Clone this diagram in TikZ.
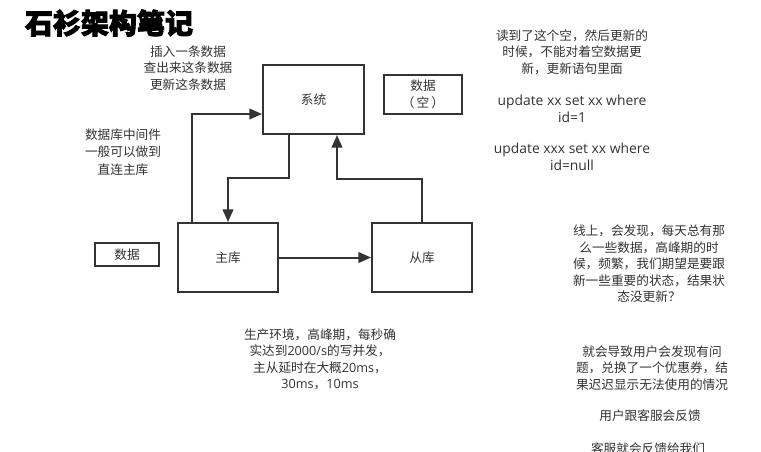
\documentclass[tikz,border=0pt]{standalone}
\usepackage{fontspec}
\setmainfont{Noto Sans CJK SC}
\newfontfamily\cjk{Noto Sans CJK SC}
\newfontfamily\lat{Open Sans}
\newfontfamily\cjktitle[FakeBold=3]{Noto Sans CJK SC}
\usetikzlibrary{arrows.meta,calc}
\definecolor{ink}{HTML}{333333}
\tikzset{
  box/.style={draw=ink, line width=1.5pt, fill=white, text=ink, inner sep=0pt,
              font=\cjk\fontsize{9.5}{12.4}\selectfont, align=center},
  note/.style={text=ink, inner sep=0pt, align=center,
               font=\cjk\fontsize{9.5}{12.4}\selectfont},
  code/.style={note, font=\lat\fontsize{10.4}{12.4}\selectfont},
  arr/.style={draw=ink, line width=1.5pt, -{Triangle[length=9.5pt,width=8pt]}},
}
\begin{document}
\begin{tikzpicture}[x=0.75pt,y=-0.75pt]
\useasboundingbox[fill=white] (0,0) rectangle (761,451);
\clip (0,0) rectangle (761,451);

% title
\node[inner sep=0pt, font=\cjktitle\bfseries\fontsize{21}{24}\selectfont] (title) at (109,23) {石衫架构笔记};

% boxes
\node[box, minimum width=75.75pt, minimum height=51.75pt] (sys) at (313.5,99.5) {系统};
\node[box, minimum width=75pt, minimum height=51.75pt] (zhu) at (228,257.5) {主库};
\node[box, minimum width=75pt, minimum height=51.75pt] (cong) at (422,257.5) {从库};
\node[box, minimum width=58.5pt, minimum height=29.25pt] (empty) at (423,94.5) {数据\\（\,空\,）};
\node[box, minimum width=48pt, minimum height=17.25pt] (data) at (127,254.5) {数据};

% bend points of the connectors
\coordinate (a1) at (192,114);
\coordinate (b1) at (289,178);
\coordinate (c1) at (337,179);

% connectors
\draw[arr] (zhu.north -| a1) |- (sys.west |- a1);
\draw[arr] (sys.south -| b1) |- (zhu.north |- b1) -- (zhu.north);
\draw[arr] (cong.north) |- (c1) -- (sys.south -| c1);
\draw[arr] (zhu.east) -- (cong.west);

% notes
\node[note] (ins) at (188,68) {插入一条数据\\查出来这条数据\\更新这条数据};
\node[note, font=\cjk\fontsize{9.5}{13}\selectfont] (mid) at (123,152) {数据库中间件\\一般可以做到\\直连主库};
\node[note] (read) at (572,52) {读到了这个空，然后更新的\\时候，不能对着空数据更\\新，更新语句里面};
\node[code] (sql1) at (572,109) {update xx set xx where\\id=1};
\node[code] (sql2) at (572,157) {update xxx set xx where\\id=null};
\node[note] (online) at (649,264) {线上，会发现，每天总有那\\么一些数据，高峰期的时\\候，频繁，我们期望是要跟\\新一些重要的状态，结果状\\态没更新？};
\node[note] (prod) at (320,359.5) {生产环境，高峰期，每秒确\\实达到{\lat 2000/s}的写并发，\\主从延时在大概{\lat 20ms}，\\{\lat 30ms}，{\lat 10ms}};
\node[note] (user) at (652,368) {就会导致用户会发现有问\\题，兑换了一个优惠券，结\\果迟迟显示无法使用的情况};
\node[note] (svc) at (650,416) {用户跟客服会反馈};
\node[note] (back) at (648,449) {客服就会反馈给我们};
\end{tikzpicture}
\end{document}
